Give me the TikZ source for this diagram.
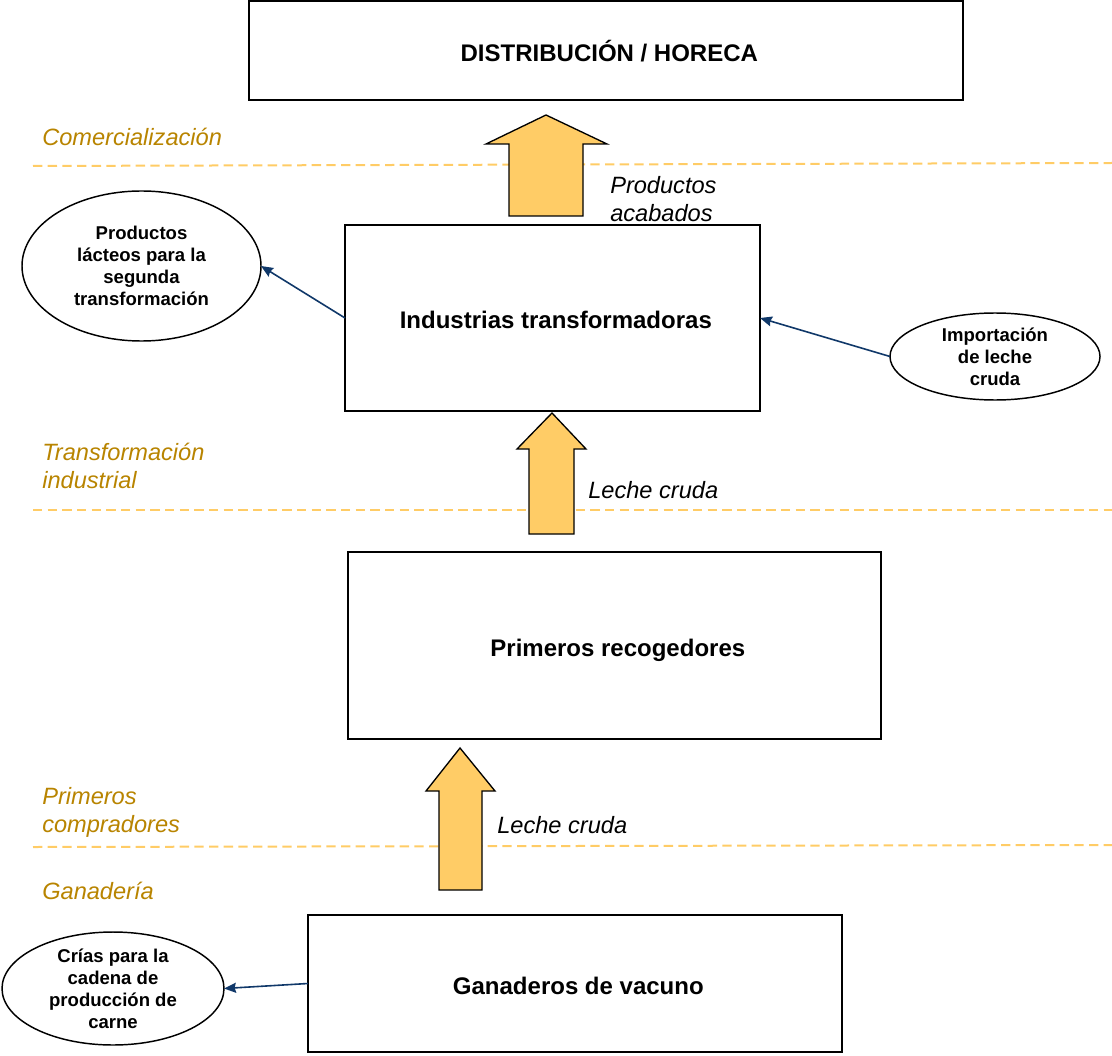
\documentclass[tikz,border=0pt]{standalone}
\usepackage{fontspec}
\setmainfont{Liberation Sans}
\usetikzlibrary{shapes.geometric,arrows.meta}
\definecolor{arrfill}{RGB}{255,204,102}
\definecolor{dashcol}{RGB}{255,204,102}
\definecolor{labcol}{RGB}{184,132,0}
\definecolor{linkcol}{RGB}{16,56,105}
\begin{document}
\begin{tikzpicture}[x=0.75pt,y=-0.75pt,
  box/.style={draw=black,line width=1.5pt,rectangle,inner sep=0pt,outer sep=0pt,
    text height=16.4pt,text depth=0pt,
    font=\fontsize{18}{21}\selectfont\bfseries},
  oval/.style={draw=black,line width=1.1pt,ellipse,inner sep=0pt,outer sep=0pt,align=center,
    font=\fontsize{13.9}{16.5}\selectfont\bfseries},
  stage/.style={anchor=west,align=left,inner sep=0pt,text=labcol,
    font=\fontsize{17.7}{21}\selectfont\itshape},
  flowlab/.style={anchor=west,align=left,inner sep=0pt,text=black,
    font=\fontsize{17.7}{21}\selectfont\itshape},
  sep/.style={draw=dashcol,line width=1.5pt,dash pattern=on 7pt off 4pt},
  blockarrow/.style={draw=black,line width=1pt,fill=arrfill,line join=miter},
  link/.style={draw=linkcol,line width=1.2pt,-{Stealth[length=9pt,width=7.5pt,inset=1pt]}}
]
\useasboundingbox (0,0) rectangle (1112,1055);

% separators
\draw[sep] (33,166) -- (1112,163);
\draw[sep] (33,510) -- (1112,510);
\draw[sep] (33,847) -- (1112,845);

% stage labels
\node[stage] (s1) at (42,137) {Comercialización};
\node[stage] (s2) at (42,466) {Transformación\\industrial};
\node[stage] (s3) at (42,812) {Primeros\\compradores};
\node[stage] (s4) at (42,891) {Ganadería};

% boxes
\node[box,minimum width=535.5pt,minimum height=74.25pt] (dist) at (606,50.5) {\hspace*{5pt}DISTRIBUCIÓN / HORECA};
\node[box,minimum width=311.25pt,minimum height=139.5pt] (ind) at (552.5,318) {\hspace*{5pt}Industrias transformadoras};
\node[box,minimum width=399.75pt,minimum height=140.25pt] (rec) at (614.5,645.5) {\hspace*{5pt}Primeros recogedores};
\node[box,minimum width=400.5pt,minimum height=102.75pt] (gan) at (575,983.5) {\hspace*{5pt}Ganaderos de vacuno};

% ovals
\node[oval,minimum width=179.25pt,minimum height=112.5pt] (lac) at (141.5,266) {Productos\\lácteos para la\\segunda\\transformación};
\node[oval,minimum width=157.5pt,minimum height=65.25pt] (imp) at (995,356.5) {Importación\\de leche\\cruda};
\node[oval,minimum width=166.5pt,minimum height=84.75pt] (cri) at (113,988.5) {Crías para la\\cadena de\\producción de\\carne};

% block arrows
\draw[blockarrow] (509,216) -- (509,144) -- (486,144) -- (546,115) -- (607,144) -- (583,144) -- (583,216) -- cycle;
\draw[blockarrow] (529,534) -- (529,449) -- (517,449) -- (552,413) -- (586,449) -- (574,449) -- (574,534) -- cycle;
\draw[blockarrow] (439,890) -- (439,791) -- (426,791) -- (460,748) -- (495,791) -- (482,791) -- (482,890) -- cycle;

% flow labels
\node[flowlab] (f1) at (610,199) {Productos\\acabados};
\node[flowlab] (f2) at (588,490) {Leche cruda};
\node[flowlab] (f3) at (497,825) {Leche cruda};

% links
\draw[link] (ind.west) -- (lac.east);
\draw[link] (imp.west) -- (ind.east);
\draw[link] (gan.west) -- (cri.east);
\end{tikzpicture}
\end{document}
